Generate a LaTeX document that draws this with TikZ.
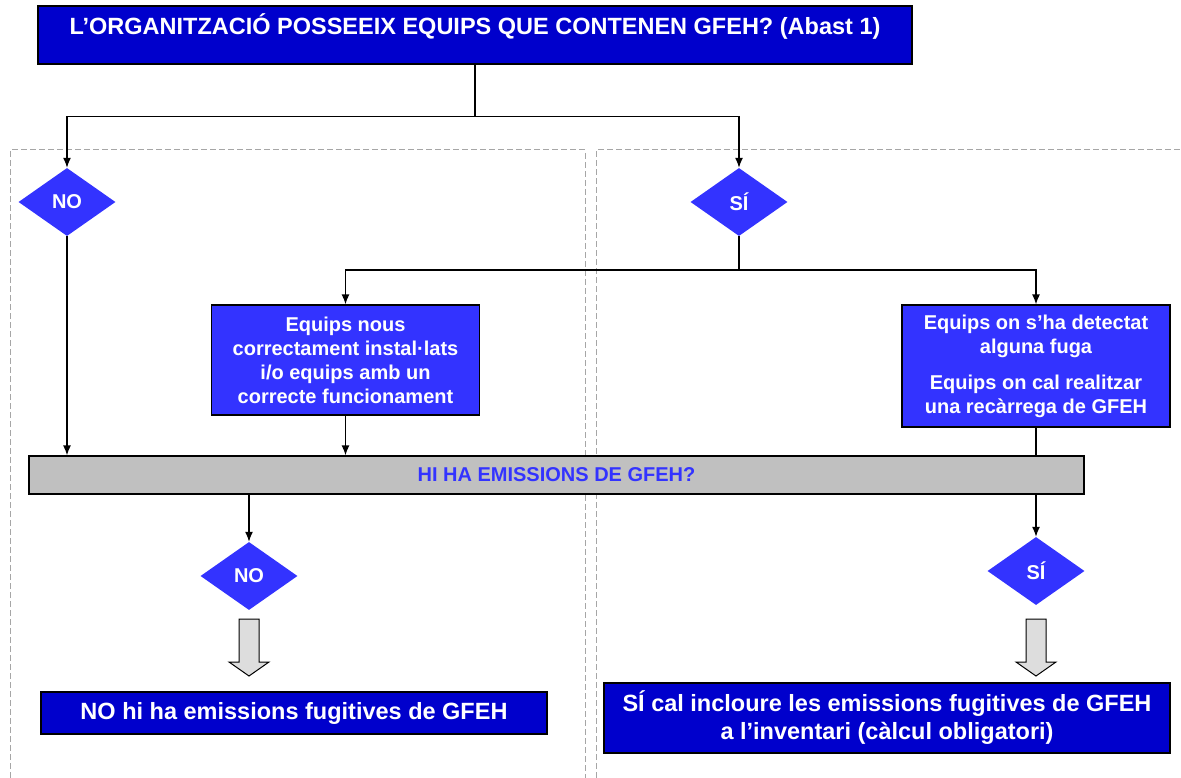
\documentclass[tikz,border=0pt]{standalone}
\usepackage{fontspec}
\setmainfont{Liberation Sans}
\usepackage{tikz}
\usetikzlibrary{arrows.meta}
\usetikzlibrary{shapes.geometric}
\usetikzlibrary{positioning}
\definecolor{fosc}{HTML}{0000CC}
\definecolor{blau}{HTML}{3333FF}
\definecolor{gris}{HTML}{C0C0C0}
\definecolor{grisclar}{HTML}{DDDDDD}
\definecolor{ratlla}{HTML}{A6A6A6}
\tikzset{>={Latex[length=10pt,width=8pt]}}
\tikzset{
    titol/.style={draw=black, fill=fosc, text=white, line width=1.2pt, align=center,
        font=\bfseries\fontsize{23.5}{28}\selectfont},
    caixa/.style={draw=black, fill=blau, text=white, line width=1.2pt, align=center, inner sep=0pt,
        font=\bfseries\fontsize{20}{24}\selectfont},
    rombe/.style={diamond, fill=blau, text=white, inner sep=0pt, minimum width=97pt, minimum height=68pt,
        font=\bfseries\fontsize{20}{24}\selectfont},
    barra/.style={draw=black, fill=gris, text=blau, line width=1.2pt, inner sep=0pt,
        font=\bfseries\fontsize{20}{24}\selectfont},
    panell/.style={draw=ratlla, line width=1pt, dash pattern=on 6pt off 3pt},
    fletxa/.style={draw=black, fill=grisclar, line width=1pt},
    linia/.style={line width=1.4pt}
}

\begin{document}
\begin{tikzpicture}[x=1pt, y=-1pt]
    \useasboundingbox (0,0) rectangle (1181,778);
    \draw[panell] (10,778) -- (10,150) -- (585,150) -- (585,778);
    \draw[panell] (596,778) -- (596,150) -- (1181,150);

    \node[titol, minimum width=874pt, inner ysep=0pt, text height=29pt, text depth=29pt] (top) at (475,35)
        {L’ORGANITZACIÓ POSSEEIX EQUIPS QUE CONTENEN GFEH? (Abast 1)};
    \node[rombe] (no1) at (67,202) {NO};
    \node[rombe] (si1) at (739,202) {SÍ};
    \node[caixa, minimum width=268pt, minimum height=110pt] (nous) at (345.5,360)
        {Equips nous\\correctament instal·lats\\i/o equips amb un\\correcte funcionament};
    \node[caixa, minimum width=268pt, minimum height=122pt] (fuga) at (1036,366)
        {Equips on s’ha detectat\\alguna fuga\\[12pt]Equips on cal realitzar\\una recàrrega de GFEH};
    \node[barra, minimum width=1055pt, minimum height=38pt] (emis) at (556.5,475) {HI HA EMISSIONS DE GFEH?};
    \node[rombe] (no2) at (249,576) {NO};
    \node[rombe] (si2) at (1036,571) {SÍ};
    \node[titol, minimum width=506pt, minimum height=42pt, inner sep=0pt] (noemis) at (294,713)
        {NO hi ha emissions fugitives de GFEH};
    \node[titol, minimum width=566pt, minimum height=70pt, inner sep=0pt] (siemis) at (887,718)
        {SÍ cal incloure les emissions fugitives de GFEH\\a l’inventari (càlcul obligatori)};

    \draw[linia, ->] (top.south) -- ++(0,52) -| (no1);
    \draw[linia, ->] (top.south) -- ++(0,52) -| (si1);
    \draw[linia, ->] (si1.south) -- ++(0,34) -| (nous);
    \draw[linia, ->] (si1.south) -- ++(0,34) -| (fuga);
    \draw[linia, ->] (no1) -- (no1 |- emis.north);
    \draw[linia, ->] (nous) -- (nous |- emis.north);
    \draw[linia] (fuga) -- (fuga |- emis.north);
    \draw[linia, ->] (emis.south -| no2) -- (no2);
    \draw[linia, ->] (emis.south -| si2) -- (si2);

    \foreach \x in {249,1036} {
        \coordinate (cua) at (\x,619);
        \filldraw[fletxa] (cua) ++(-10,0) -- ++(20,0) -- ++(0,43) -- ++(10,0) -- ++(-20,14)
            -- ++(-20,-14) -- ++(10,0) -- cycle;
    }
\end{tikzpicture}
\end{document}
